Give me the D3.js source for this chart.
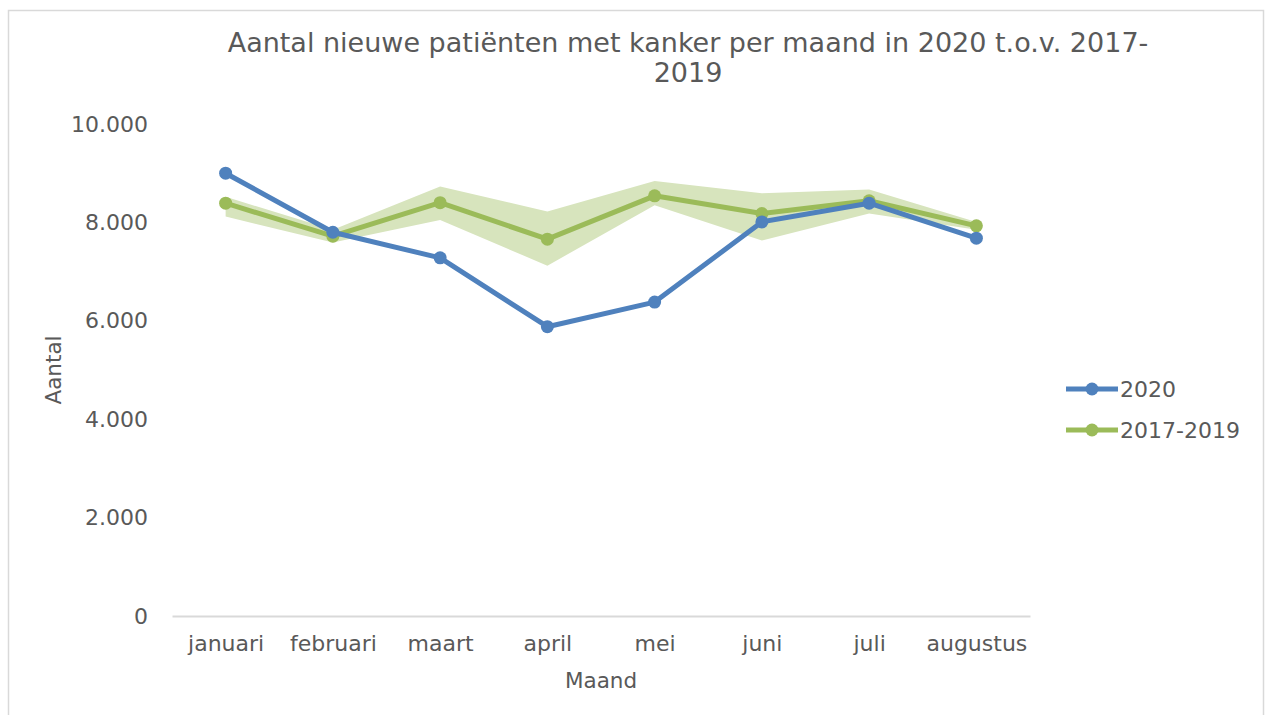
<!DOCTYPE html>
<html>
<head>
<meta charset="utf-8">
<script src="https://cdn.jsdelivr.net/npm/d3@7"></script>
<style>
  body { margin: 0; background: #fff; }
  text { font-family: "DejaVu Sans", Verdana, sans-serif; fill: #595959; }
</style>
</head>
<body>
<svg width="1272" height="715"></svg>
<script>
var months = ["januari", "februari", "maart", "april", "mei", "juni", "juli", "augustus"];
var values2020 = [9000, 7800, 7280, 5880, 6380, 8010, 8390, 7680];
var valuesAvg = [8390, 7720, 8400, 7660, 8540, 8180, 8440, 7930];
var bandLow = [8120, 7590, 8050, 7120, 8350, 7630, 8180, 7850];
var bandHigh = [8520, 7850, 8730, 8220, 8840, 8590, 8670, 8010];
var yTicks = [0, 2000, 4000, 6000, 8000, 10000];
var seriesNames = ["2020", "2017-2019"];

var svg = d3.select("svg");

var margins = { top: 124, bottom: 99, left: 172, right: 242 };
var width = 1272 - margins.left - margins.right;
var height = 715 - margins.top - margins.bottom;

var blue = "#4f81bd";
var green = "#9bbb59";

// frame
svg.append("rect")
  .attr("x", 8.5).attr("y", 10.5)
  .attr("width", 1255).attr("height", 720)
  .attr("fill", "none")
  .attr("stroke", "#d9d9d9")
  .attr("stroke-width", 1.5);

var xScale = d3.scalePoint()
  .domain(months)
  .range([0, width])
  .padding(0.5);

var yScale = d3.scaleLinear()
  .domain([0, 10000])
  .range([height, 0]);

var g = svg.append("g")
  .attr("transform", "translate(" + margins.left + "," + margins.top + ")");

var fmt = function(d) { return d3.format(",")(d).replace(/,/g, "."); };

// y axis labels only
var yAxis = d3.axisLeft(yScale).tickValues(yTicks).tickFormat(fmt).tickSize(0).tickPadding(24);
g.append("g").call(yAxis)
  .call(function(s) { s.select(".domain").remove(); })
  .selectAll("text")
  .style("font-size", "22px")
  .attr("fill", "#595959");

// x axis
var xAxis = d3.axisBottom(xScale).tickSize(0).tickPadding(19);
var xg = g.append("g")
  .attr("transform", "translate(0," + height + ")")
  .call(xAxis);
xg.select(".domain").attr("stroke", "#d9d9d9").attr("stroke-width", 2);
xg.selectAll("text").style("font-size", "22px").attr("fill", "#595959");

// band
var area = d3.area()
  .x(function(d, i) { return xScale(months[i]); })
  .y0(function(d, i) { return yScale(bandLow[i]); })
  .y1(function(d, i) { return yScale(bandHigh[i]); });

g.append("path")
  .datum(months)
  .attr("d", area)
  .attr("fill", "#d7e4bd");

var line = d3.line()
  .x(function(d, i) { return xScale(months[i]); })
  .y(function(d) { return yScale(d); });

var drawSeries = function(vals, color) {
  g.append("path")
    .datum(vals)
    .attr("d", line)
    .attr("fill", "none")
    .attr("stroke", color)
    .attr("stroke-width", 5)
    .attr("stroke-linejoin", "round");
  g.append("g").selectAll("circle")
    .data(vals)
    .enter()
    .append("circle")
    .attr("cx", function(d, i) { return xScale(months[i]); })
    .attr("cy", function(d) { return yScale(d); })
    .attr("r", 6.5)
    .attr("fill", color);
};

drawSeries(valuesAvg, green);
drawSeries(values2020, blue);

// title
var title = svg.append("text")
  .attr("text-anchor", "middle")
  .style("font-size", "27px");
title.append("tspan").attr("x", 688).attr("y", 52)
  .text("Aantal nieuwe patiënten met kanker per maand in 2020 t.o.v. 2017-");
title.append("tspan").attr("x", 688).attr("y", 82).text("2019");

// axis titles
svg.append("text")
  .attr("x", margins.left + width / 2).attr("y", 688)
  .attr("text-anchor", "middle")
  .style("font-size", "21.5px")
  .text("Maand");

svg.append("text")
  .attr("transform", "translate(61,370) rotate(-90)")
  .attr("text-anchor", "middle")
  .style("font-size", "21.5px")
  .text("Aantal");

// legend
var legendColors = [blue, green];
var legend = svg.append("g").selectAll("g")
  .data(seriesNames)
  .enter()
  .append("g")
  .attr("transform", function(d, i) { return "translate(1066," + (389 + i * 41) + ")"; });

legend.append("line")
  .attr("x1", 0).attr("x2", 52)
  .attr("stroke", function(d, i) { return legendColors[i]; })
  .attr("stroke-width", 5);
legend.append("circle")
  .attr("cx", 26).attr("r", 6.5)
  .attr("fill", function(d, i) { return legendColors[i]; });
legend.append("text")
  .attr("x", 54).attr("dy", "0.35em")
  .style("font-size", "22px")
  .text(function(d) { return d; });
</script>
</body>
</html>
